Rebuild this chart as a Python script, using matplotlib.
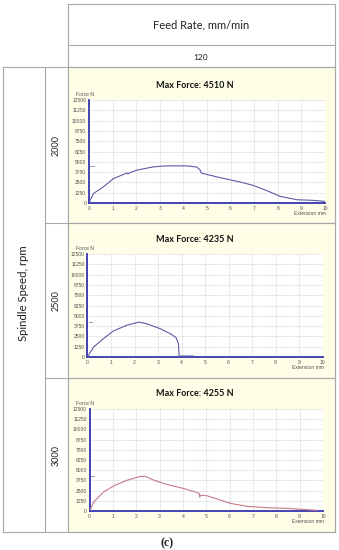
import matplotlib.pyplot as plt
from matplotlib.patches import Rectangle

# force-extension curves (mm, N)
ext_2000 = [0, 0.18, 0.6, 1.03, 1.6, 1.65, 1.7, 2.0, 2.7, 3.1, 3.43, 4.14, 4.56, 4.7, 4.75,
            5.55, 6.4, 6.96, 7.5, 8.1, 8.8, 9.5, 10.0]
force_2000 = [0, 1130, 1940, 2950, 3640, 3520, 3640, 3970, 4370, 4480, 4510, 4500, 4370, 4050, 3640,
              3080, 2550, 2140, 1540, 810, 400, 320, 200]

ext_2500 = [0, 0.26, 0.68, 1.1, 1.67, 2.17, 2.5, 3.09, 3.52, 3.77, 3.87, 3.9,
            3.95, 4.5, 4.55]
force_2500 = [0, 1215, 2230, 3160, 3850, 4235, 4050, 3440, 2830, 2350, 1620, 0,
              120, 120, 0]

ext_3000 = [0, 0.19, 0.61, 1.04, 1.61, 2.19, 2.4, 2.76, 3.33, 4.04, 4.61, 4.7, 4.72, 4.76,
            5.04, 5.61, 6.04, 6.76, 7.61, 8.47, 9.33, 9.76]
force_3000 = [0, 1130, 2350, 3080, 3770, 4255, 4240, 3770, 3240, 2750, 2270, 2150, 1700, 1940,
              1860, 1340, 930, 570, 400, 320, 160, 80]

speeds = ['2000', '2500', '3000']
max_forces = [4510, 4235, 4255]
curves = [(ext_2000, force_2000), (ext_2500, force_2500), (ext_3000, force_3000)]
curve_colors = ['#5c5ca6', '#5c5ca6', '#c47a88']
y_ticks = [0, 1250, 2500, 3750, 5000, 6250, 7500, 8750, 10000, 11250, 12500]
x_ticks = [0, 1, 2, 3, 4, 5, 6, 7, 8, 9, 10]

W, H = 339, 550
fig = plt.figure(figsize=(W / 100, H / 100), dpi=100)
fig.patch.set_facecolor('white')

# background axes in pixel coordinates for the table frame
bg = fig.add_axes([0, 0, 1, 1])
bg.set_xlim(0, W)
bg.set_ylim(H, 0)
bg.axis('off')

line_c = '#a8a8a8'
rows = [(67, 223), (223, 378), (378, 532)]
for top, bot in rows:
    bg.add_patch(Rectangle((68, top), 267, bot - top, fc='#ffffe8', ec='#b4b4b4', lw=0.8, zorder=0))

def hline(y, x0, x1):
    bg.plot([x0, x1], [y, y], color=line_c, lw=0.8, zorder=1)

def vline(x, y0, y1):
    bg.plot([x, x], [y0, y1], color=line_c, lw=0.8, zorder=1)

hline(4, 68, 335)
hline(45, 68, 335)
hline(67, 3, 335)
hline(223, 45, 335)
hline(378, 45, 335)
hline(532, 3, 335)
vline(68, 4, 532)
vline(335, 4, 532)
vline(3, 67, 532)
vline(45, 67, 532)

bg.text(201, 25, 'Feed Rate, mm/min', fontsize=8, family='Lato', ha='center', va='center', color='#222222')
bg.text(201, 57, '120', fontsize=6, family='Lato', ha='center', va='center', color='#222222')
bg.text(24, 293, 'Spindle Speed, rpm', fontsize=8.2, family='Lato', rotation=90,
        ha='center', va='center', color='#222222')
for (top, bot), s in zip(rows, speeds):
    bg.text(56.5, (top + bot) / 2, s, fontsize=6.5, family='Lato', rotation=90,
            ha='center', va='center', color='#222222')
bg.text(167, 543, '(c)', fontsize=8.5, family='Liberation Serif', weight='bold',
        ha='center', va='center', color='#222222')

# plot boxes (left, top, right, bottom) in pixels
boxes = [(89, 100, 325, 203), (87.5, 254, 322.5, 357), (89.5, 409, 323, 511)]
axis_blue = '#3434b0'

for i, (x0, y0, x1, y1) in enumerate(boxes):
    ax = fig.add_axes([x0 / W, 1 - y1 / H, (x1 - x0) / W, (y1 - y0) / H])
    ax.set_facecolor('white')
    ext, force = curves[i]
    ax.plot(ext, force, color=curve_colors[i], lw=0.8, zorder=3)
    ax.plot([0.05, 0.2], [max_forces[i], max_forces[i]], color='#8888a8', lw=0.6, zorder=3)
    ax.set_xlim(0, 10)
    ax.set_ylim(0, 12500)
    ax.set_xticks(x_ticks)
    ax.set_yticks(y_ticks)
    ax.grid(True, color='#c4c4c4', lw=0.5, ls=(0, (1, 1)))
    ax.set_axisbelow(True)
    for side in ['top', 'right']:
        ax.spines[side].set_visible(False)
    for side in ['left', 'bottom']:
        ax.spines[side].set_color(axis_blue)
        ax.spines[side].set_linewidth(1.3)
    ax.tick_params(length=0, labelsize=3.6, pad=2, colors='#505050')
    for lab in ax.get_xticklabels() + ax.get_yticklabels():
        lab.set_family('Liberation Sans')

    bg.text(195, y0 - 15, 'Max Force: %d N' % max_forces[i], fontsize=6.5, family='Lato',
            weight='bold', ha='center', va='center', color='#111111')
    bg.text(76, y0 - 5.5, 'Force N', fontsize=3.6, family='Liberation Sans', va='center', color='#505050')
    bg.text(x1 + 1, y1 + 10.5, 'Extension mm', fontsize=3.6, family='Liberation Sans',
            ha='right', va='center', color='#505050')

fig.savefig('out.png', dpi=100)
